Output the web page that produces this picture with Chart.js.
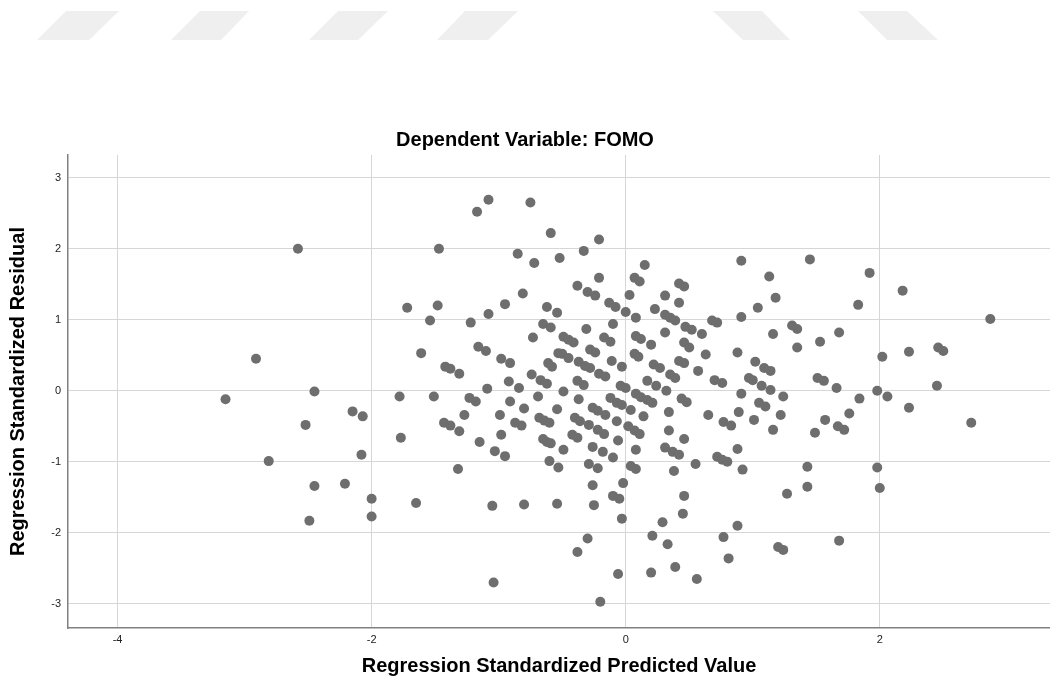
<!DOCTYPE html>
<html>
<head>
<meta charset="utf-8">
<script src="https://cdn.jsdelivr.net/npm/chart.js@4/dist/chart.umd.min.js"></script>
<style>
  html, body { margin: 0; padding: 0; background: #fff; }
  #wrap { position: relative; width: 1050px; height: 690px; overflow: hidden; }
  #deco { position: absolute; left: 0; top: 0; }
  #chart { position: absolute; left: 0; top: 0; }
</style>
</head>
<body>
<div id="wrap">
  <svg id="deco" width="1050" height="60">
    <g fill="#efefef">
      <polygon points="66,11 119,11 89,40 37,40"/>
      <polygon points="200,11 249,11 221,40 171,40"/>
      <polygon points="338,11 388,11 358,40 309,40"/>
      <polygon points="465,11 518,11 488,40 437,40"/>
      <polygon points="713,11 762,11 790,40 743,40"/>
      <polygon points="858,11 907,11 938,40 887,40"/>
    </g>
  </svg>
  <canvas id="chart" width="1050" height="690"></canvas>
</div>
<script>
// standardized predicted value (x) and standardized residual (y)
const predicted = [
  -3.15, -2.91, -2.58, -2.45, -2.52, -2.81, -2.45, -2.49, -2.21, -2.15,
  -2.07, -2.08, -2.00, -2.00, -1.78, -1.77, -1.65, -1.72,
  -1.08, -1.17, -0.75, -0.59, -1.47, -0.85, -0.72, -0.52, -1.48, -1.54,
  -1.22, -1.08, -0.95, -0.81, -0.62, -0.54, -0.65, -0.59, -0.73, -1.16,
  -1.10, -1.61, -0.98, -0.91, -0.53, -1.42, -1.38, -1.31, -0.61, -0.58,
  -0.74, -0.92, -0.84, -0.67, -0.62, -1.09, -1.51, -1.23, -1.18, -0.69,
  -0.91,
  -0.80, -0.54, -1.27, -0.99, -1.43, -1.38, -1.31, -0.87, -0.82, -0.68,
  -0.64, -0.60, -0.98, -1.15, -0.65, -0.62, -0.59, -1.03, -0.95, -0.60,
  -0.53, -1.32, -1.05, -0.80, -0.54, -1.04,
  -0.21, -0.33, 0.91, 0.15, 1.13, -0.21, 0.07, 0.11, 0.42, 0.46,
  1.18, -0.38, -0.30, -0.24, 0.03, 0.31, 0.42, 1.04, -0.13, -0.08,
  0.23, 0.00, 0.08, 0.31, 0.35, 0.39, 0.68, 0.72, 0.91, 1.31,
  1.35, 1.16, 1.35, -0.31, -0.10, 0.47, 0.52, 0.60, -0.49, -0.45,
  -0.41, -0.17, -0.12, 0.08, 0.12, 0.20, 0.31, 0.46, 0.50, -0.28,
  -0.24, -0.50, -0.45, 0.07, 0.10, 0.63, 0.88, 1.02, 1.09, 1.14,
  -0.37, -0.32, -0.28, -0.11, -0.03, 0.22, 0.27, 0.42, 0.46, 0.35,
  0.39, 0.57, -0.21, -0.16, -0.38, -0.33, 0.17, 0.24, 0.32, 0.70,
  0.76, 0.97, 1.00, 1.07, 1.14, 1.24, -0.04, 0.00, -0.49, -0.37,
  0.08, 0.12, 0.17, 0.21, 0.44, 0.48, 0.91,
  -0.12, -0.07, -0.03, 1.05, 1.10, -0.26, -0.22, -0.16, 0.04, 0.14,
  0.34, -0.40, -0.36, -0.29, -0.22, -0.17, -0.07, 0.02, 0.07, 0.11,
  0.65, 0.77, 0.83, 0.89, 1.01, 1.22, 1.16, 0.34, 0.46, -0.42,
  -0.38, -0.49, -0.26, -0.18, -0.06, -0.10, 0.08, 0.31, 0.37, 0.42,
  0.72, 0.76, 0.80, 0.88, 0.92, 0.55, 0.38, -0.29, -0.22, 0.04,
  0.08, -0.02, -0.26, -0.10, -0.05, 0.46, -0.25, -0.03, 0.45, 0.29,
  0.88, 0.21, 0.77, -0.30, 0.33, -0.38, 1.20, 1.24, 0.81, 0.39,
  0.20, -0.06, 0.56, -0.20, 1.27,
  1.45, 1.92, 2.18, 1.83, 2.87, 1.68, 1.53, 2.02, 2.23, 2.46,
  2.50, 1.51, 1.56, 1.66, 1.98, 2.45, 1.84, 2.06,
  2.23, 2.72, 1.76, 1.57, 1.67, 1.72, 1.49, 1.43, 1.98, 1.43,
  2.00, 1.68
];
const residual = [
  -0.12, 0.45, 2.00, -0.01, -0.48, -0.99, -1.34, -1.83, -1.31, -0.29,
  -0.36, -0.90, -1.52, -1.77, -0.08, -0.66, -1.58, 1.17,
  2.69, 2.52, 2.65, 2.22, 2.00, 1.93, 1.80, 1.87, 1.20, 0.99,
  0.96, 1.08, 1.22, 1.37, 1.18, 1.10, 0.94, 0.89, 0.75, 0.62,
  0.56, 0.53, 0.45, 0.39, 0.53, 0.34, 0.31, 0.24, 0.39, 0.34,
  0.23, 0.13, 0.04, 0.15, 0.10, 0.03, -0.08, -0.10, -0.15, -0.08,
  -0.15,
  -0.25, -0.26, -0.34, -0.34, -0.45, -0.49, -0.57, -0.45, -0.49, -0.38,
  -0.42, -0.45, -0.62, -0.72, -0.68, -0.72, -0.74, -0.85, -0.92, -0.99,
  -1.08, -1.10, -1.62, -1.60, -1.59, -2.70,
  2.13, 1.97, 1.83, 1.77, 1.61, 1.59, 1.59, 1.54, 1.51, 1.47,
  1.31, 1.48, 1.39, 1.34, 1.35, 1.34, 1.24, 1.17, 1.24, 1.18,
  1.15, 1.11, 1.03, 1.07, 1.03, 0.99, 0.99, 0.96, 1.04, 0.92,
  0.87, 0.80, 0.61, 0.87, 0.94, 0.90, 0.86, 0.80, 0.76, 0.72,
  0.68, 0.75, 0.69, 0.77, 0.73, 0.65, 0.82, 0.68, 0.61, 0.58,
  0.54, 0.52, 0.46, 0.52, 0.48, 0.51, 0.54, 0.41, 0.32, 0.28,
  0.41, 0.35, 0.32, 0.42, 0.34, 0.37, 0.32, 0.42, 0.39, 0.23,
  0.18, 0.28, 0.24, 0.20, 0.14, 0.08, 0.14, 0.07, 0.00, 0.15,
  0.11, 0.18, 0.15, 0.07, 0.01, -0.08, 0.07, 0.04, -0.01, -0.12,
  -0.04, -0.09, -0.13, -0.17, -0.11, -0.16, -0.04,
  -0.10, -0.17, -0.20, -0.17, -0.22, -0.24, -0.28, -0.34, -0.27, -0.36,
  -0.30, -0.38, -0.43, -0.48, -0.55, -0.61, -0.43, -0.50, -0.56, -0.61,
  -0.34, -0.44, -0.49, -0.30, -0.41, -0.34, -0.55, -0.56, -0.68, -0.62,
  -0.66, -0.83, -0.79, -0.86, -0.70, -0.94, -0.83, -0.80, -0.86, -0.90,
  -0.93, -0.97, -1.00, -0.82, -1.11, -1.03, -1.13, -1.03, -1.09, -1.06,
  -1.10, -1.30, -1.33, -1.48, -1.52, -1.48, -1.61, -1.80, -1.73, -1.85,
  -1.90, -2.04, -2.06, -2.08, -2.16, -2.27, -2.20, -2.24, -2.36, -2.48,
  -2.56, -2.58, -2.65, -2.97, -1.45,
  1.85, 1.66, 1.41, 1.21, 1.01, 0.82, 0.69, 0.48, 0.55, 0.61,
  0.56, 0.18, 0.14, 0.04, 0.00, 0.07, -0.11, -0.08,
  -0.24, -0.45, -0.32, -0.41, -0.50, -0.55, -0.59, -1.07, -1.08, -1.35,
  -1.37, -2.11
];
const xTicks = [-4, -2, 0, 2];
const yTicks = [-3, -2, -1, 0, 1, 2, 3];

const points = predicted.map((v, i) => ({ x: v, y: residual[i] }));
const FONT = 'Arial, "Liberation Sans", sans-serif';

new Chart(document.getElementById('chart'), {
  type: 'scatter',
  data: {
    datasets: [{
      data: points,
      backgroundColor: '#6e6e6e',
      borderColor: '#6e6e6e',
      borderWidth: 0,
      pointRadius: 5,
      pointHoverRadius: 5
    }]
  },
  options: {
    responsive: false,
    animation: false,
    devicePixelRatio: 1,
    layout: { autoPadding: false, padding: 0 },
    plugins: {
      legend: { display: false },
      tooltip: { enabled: false },
      title: {
        display: true,
        text: 'Dependent Variable: FOMO',
        color: '#000',
        font: { family: FONT, size: 20, weight: 'bold' },
        padding: { top: 128, bottom: 3 }
      }
    },
    scales: {
      x: {
        type: 'linear',
        min: -4.39,
        max: 3.34,
        afterBuildTicks: s => { s.ticks = xTicks.map(v => ({ value: v })); },
        afterFit: s => { s.height = 62; },
        ticks: { color: '#222', font: { family: FONT, size: 11 }, padding: 5 },
        grid: { color: '#d6d6d6', lineWidth: 1, drawTicks: false },
        border: { color: '#808080', width: 1.5 },
        title: {
          display: true,
          text: 'Regression Standardized Predicted Value',
          color: '#000',
          font: { family: FONT, size: 20, weight: 'bold' },
          padding: { top: 0, bottom: 12 }
        }
      },
      y: {
        type: 'linear',
        min: -3.34,
        max: 3.32,
        afterBuildTicks: s => { s.ticks = yTicks.map(v => ({ value: v })); },
        afterFit: s => { s.width = 68; },
        ticks: { color: '#222', font: { family: FONT, size: 11 }, padding: 7 },
        grid: { color: '#d6d6d6', lineWidth: 1, drawTicks: false },
        border: { color: '#808080', width: 1.5 },
        title: {
          display: true,
          text: 'Regression Standardized Residual',
          color: '#000',
          font: { family: FONT, size: 20, weight: 'bold' },
          padding: { top: 6.5, bottom: 0 }
        }
      }
    }
  }
});
</script>
</body>
</html>
